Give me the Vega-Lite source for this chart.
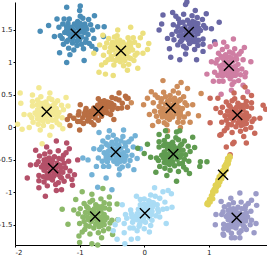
{"$schema":"https://vega.github.io/schema/vega-lite/v6.json","width":252,"height":243,"autosize":{"type":"none"},"padding":{"left":15,"top":2,"right":0,"bottom":10},
"config":{"view":{"stroke":null},"axis":{"grid":false,"domainColor":"#000","domainWidth":1,"tickColor":"#000","tickSize":2,"labelPadding":1,"labelFontSize":7,"labelFont":"DejaVu Sans","labelColor":"#222","title":null}},
"layer":[
{"data":{"values":[
{"c":"a","x":-1.05,"y":1.45},{"c":"a","x":-0.95,"y":1.50},{"c":"a","x":-1.15,"y":1.51},{"c":"a","x":-1.00,"y":1.35},{"c":"a","x":-1.11,"y":1.36},{"c":"a","x":-0.87,"y":1.43},{"c":"a","x":-1.23,"y":1.46},{"c":"a","x":-1.03,"y":1.63},{"c":"a","x":-1.04,"y":1.26},{"c":"a","x":-0.92,"y":1.59},{"c":"a","x":-1.18,"y":1.60},{"c":"a","x":-0.91,"y":1.31},{"c":"a","x":-1.20,"y":1.32},{"c":"a","x":-0.80,"y":1.50},{"c":"a","x":-1.30,"y":1.41},{"c":"a","x":-0.99,"y":1.71},{"c":"a","x":-1.09,"y":1.19},{"c":"a","x":-0.83,"y":1.58},{"c":"a","x":-1.26,"y":1.59},{"c":"a","x":-0.85,"y":1.29},{"c":"a","x":-1.25,"y":1.28},{"c":"a","x":-0.95,"y":1.68},{"c":"a","x":-1.16,"y":1.67},{"c":"a","x":-0.94,"y":1.21},{"c":"a","x":-1.17,"y":1.22},{"c":"a","x":-0.78,"y":1.37},{"c":"a","x":-1.32,"y":1.54},{"c":"a","x":-0.98,"y":1.55},{"c":"a","x":-1.12,"y":1.43},{"c":"a","x":-1.02,"y":1.53},{"c":"a","x":-0.89,"y":1.51},{"c":"a","x":-1.20,"y":1.50},{"c":"a","x":-0.97,"y":1.28},{"c":"a","x":-1.08,"y":1.59},{"c":"a","x":-0.86,"y":1.66},{"c":"a","x":-1.27,"y":1.37},{"c":"a","x":-0.81,"y":1.25},{"c":"a","x":-1.24,"y":1.67},{"c":"a","x":-0.72,"y":1.55},{"c":"a","x":-1.39,"y":1.40},{"c":"a","x":-1.00,"y":1.80},{"c":"a","x":-1.15,"y":1.12},{"c":"a","x":-0.77,"y":1.72},{"c":"a","x":-1.35,"y":1.67},{"c":"a","x":-0.75,"y":1.20},{"c":"a","x":-1.31,"y":1.15},{"c":"a","x":-0.63,"y":1.40},{"c":"a","x":-1.20,"y":1.85},{"c":"a","x":-0.93,"y":1.03},{"c":"a","x":-1.48,"y":1.57},{"c":"a","x":-1.61,"y":1.48},{"c":"a","x":-0.99,"y":1.87},{"c":"a","x":-0.62,"y":1.55},{"c":"a","x":-1.20,"y":1.00},
{"c":"a","x":-1.00,"y":1.47},{"c":"a","x":-1.09,"y":1.49},{"c":"a","x":-1.03,"y":1.40},{"c":"a","x":-1.08,"y":1.41},{"c":"a","x":-0.97,"y":1.39},{"c":"a","x":-1.13,"y":1.54},{"c":"a","x":-0.96,"y":1.54},{"c":"a","x":-1.14,"y":1.38},{"c":"a","x":-0.93,"y":1.46},{"c":"a","x":-1.17,"y":1.44},{"c":"a","x":-1.05,"y":1.56},{"c":"a","x":-1.04,"y":1.33},{"c":"a","x":-0.99,"y":1.60},{"c":"a","x":-1.11,"y":1.30},{"c":"a","x":-0.90,"y":1.36},{"c":"a","x":-1.20,"y":1.55},{"c":"a","x":-0.91,"y":1.55},{"c":"a","x":-1.18,"y":1.34},
{"c":"b","x":-0.36,"y":1.18},{"c":"b","x":-0.46,"y":1.23},{"c":"b","x":-0.26,"y":1.23},{"c":"b","x":-0.41,"y":1.09},{"c":"b","x":-0.30,"y":1.10},{"c":"b","x":-0.54,"y":1.16},{"c":"b","x":-0.18,"y":1.19},{"c":"b","x":-0.38,"y":1.34},{"c":"b","x":-0.37,"y":1.01},{"c":"b","x":-0.49,"y":1.31},{"c":"b","x":-0.23,"y":1.32},{"c":"b","x":-0.50,"y":1.05},{"c":"b","x":-0.21,"y":1.06},{"c":"b","x":-0.61,"y":1.23},{"c":"b","x":-0.11,"y":1.14},{"c":"b","x":-0.42,"y":1.41},{"c":"b","x":-0.32,"y":0.95},{"c":"b","x":-0.58,"y":1.30},{"c":"b","x":-0.15,"y":1.31},{"c":"b","x":-0.56,"y":1.04},{"c":"b","x":-0.16,"y":1.03},{"c":"b","x":-0.46,"y":1.39},{"c":"b","x":-0.25,"y":1.38},{"c":"b","x":-0.47,"y":0.96},{"c":"b","x":-0.24,"y":0.97},{"c":"b","x":-0.63,"y":1.11},{"c":"b","x":-0.09,"y":1.26},{"c":"b","x":-0.43,"y":1.27},{"c":"b","x":-0.29,"y":1.16},{"c":"b","x":-0.39,"y":1.25},{"c":"b","x":-0.52,"y":1.23},{"c":"b","x":-0.21,"y":1.23},{"c":"b","x":-0.44,"y":1.03},{"c":"b","x":-0.33,"y":1.31},{"c":"b","x":-0.55,"y":1.37},{"c":"b","x":-0.14,"y":1.11},{"c":"b","x":-0.60,"y":1.00},{"c":"b","x":-0.17,"y":1.38},{"c":"b","x":-0.69,"y":1.27},{"c":"b","x":-0.02,"y":1.14},{"c":"b","x":-0.41,"y":1.50},{"c":"b","x":-0.26,"y":0.88},{"c":"b","x":-0.64,"y":1.42},{"c":"b","x":-0.06,"y":1.38},{"c":"b","x":-0.66,"y":0.96},{"c":"b","x":-0.10,"y":0.91},{"c":"b","x":-0.78,"y":1.14},{"c":"b","x":-0.21,"y":1.54},{"c":"b","x":-0.48,"y":0.80},{"c":"b","x":0.07,"y":1.29},{"c":"b","x":-0.70,"y":0.85},{"c":"b","x":-0.60,"y":0.82},{"c":"b","x":0.05,"y":1.20},{"c":"b","x":-0.02,"y":1.45},
{"c":"b","x":-0.41,"y":1.20},{"c":"b","x":-0.32,"y":1.22},{"c":"b","x":-0.38,"y":1.13},{"c":"b","x":-0.33,"y":1.14},{"c":"b","x":-0.44,"y":1.12},{"c":"b","x":-0.28,"y":1.27},{"c":"b","x":-0.45,"y":1.27},{"c":"b","x":-0.27,"y":1.11},{"c":"b","x":-0.48,"y":1.19},{"c":"b","x":-0.24,"y":1.17},{"c":"b","x":-0.36,"y":1.29},{"c":"b","x":-0.37,"y":1.06},{"c":"b","x":-0.42,"y":1.33},{"c":"b","x":-0.30,"y":1.03},{"c":"b","x":-0.51,"y":1.09},{"c":"b","x":-0.21,"y":1.28},{"c":"b","x":-0.50,"y":1.28},{"c":"b","x":-0.23,"y":1.07},
{"c":"c","x":0.69,"y":1.47},{"c":"c","x":0.74,"y":1.57},{"c":"c","x":0.75,"y":1.37},{"c":"c","x":0.59,"y":1.52},{"c":"c","x":0.60,"y":1.41},{"c":"c","x":0.67,"y":1.65},{"c":"c","x":0.70,"y":1.29},{"c":"c","x":0.87,"y":1.49},{"c":"c","x":0.50,"y":1.48},{"c":"c","x":0.83,"y":1.60},{"c":"c","x":0.84,"y":1.34},{"c":"c","x":0.55,"y":1.61},{"c":"c","x":0.56,"y":1.32},{"c":"c","x":0.74,"y":1.72},{"c":"c","x":0.65,"y":1.22},{"c":"c","x":0.95,"y":1.53},{"c":"c","x":0.43,"y":1.43},{"c":"c","x":0.82,"y":1.69},{"c":"c","x":0.83,"y":1.26},{"c":"c","x":0.53,"y":1.67},{"c":"c","x":0.52,"y":1.27},{"c":"c","x":0.92,"y":1.57},{"c":"c","x":0.91,"y":1.36},{"c":"c","x":0.45,"y":1.58},{"c":"c","x":0.46,"y":1.35},{"c":"c","x":0.61,"y":1.74},{"c":"c","x":0.78,"y":1.20},{"c":"c","x":0.79,"y":1.54},{"c":"c","x":0.67,"y":1.40},{"c":"c","x":0.77,"y":1.50},{"c":"c","x":0.75,"y":1.63},{"c":"c","x":0.74,"y":1.32},{"c":"c","x":0.52,"y":1.55},{"c":"c","x":0.83,"y":1.44},{"c":"c","x":0.90,"y":1.66},{"c":"c","x":0.61,"y":1.25},{"c":"c","x":0.49,"y":1.71},{"c":"c","x":0.91,"y":1.28},{"c":"c","x":0.79,"y":1.80},{"c":"c","x":0.64,"y":1.13},{"c":"c","x":1.04,"y":1.52},{"c":"c","x":0.36,"y":1.37},{"c":"c","x":0.96,"y":1.75},{"c":"c","x":0.91,"y":1.17},{"c":"c","x":0.44,"y":1.77},{"c":"c","x":0.39,"y":1.21},{"c":"c","x":0.64,"y":1.89},{"c":"c","x":1.09,"y":1.32},{"c":"c","x":0.27,"y":1.59},{"c":"c","x":0.81,"y":1.04},{"c":"c","x":0.41,"y":1.08},{"c":"c","x":0.55,"y":1.04},{"c":"c","x":0.66,"y":1.93},{"c":"c","x":1.16,"y":1.62},{"c":"c","x":0.29,"y":1.73},{"c":"c","x":0.23,"y":1.50},
{"c":"c","x":0.71,"y":1.52},{"c":"c","x":0.73,"y":1.43},{"c":"c","x":0.64,"y":1.49},{"c":"c","x":0.65,"y":1.44},{"c":"c","x":0.63,"y":1.55},{"c":"c","x":0.78,"y":1.39},{"c":"c","x":0.78,"y":1.56},{"c":"c","x":0.62,"y":1.38},{"c":"c","x":0.70,"y":1.59},{"c":"c","x":0.68,"y":1.35},{"c":"c","x":0.80,"y":1.47},{"c":"c","x":0.57,"y":1.48},{"c":"c","x":0.84,"y":1.53},{"c":"c","x":0.54,"y":1.41},{"c":"c","x":0.60,"y":1.62},{"c":"c","x":0.79,"y":1.32},{"c":"c","x":0.79,"y":1.61},{"c":"c","x":0.58,"y":1.34},
{"c":"d","x":1.31,"y":0.95},{"c":"d","x":1.39,"y":0.90},{"c":"d","x":1.23,"y":0.88},{"c":"d","x":1.35,"y":1.06},{"c":"d","x":1.26,"y":1.05},{"c":"d","x":1.45,"y":0.97},{"c":"d","x":1.17,"y":0.94},{"c":"d","x":1.33,"y":0.75},{"c":"d","x":1.32,"y":1.16},{"c":"d","x":1.41,"y":0.80},{"c":"d","x":1.21,"y":0.79},{"c":"d","x":1.42,"y":1.10},{"c":"d","x":1.19,"y":1.09},{"c":"d","x":1.51,"y":0.90},{"c":"d","x":1.11,"y":0.99},{"c":"d","x":1.36,"y":0.66},{"c":"d","x":1.28,"y":1.24},{"c":"d","x":1.49,"y":0.81},{"c":"d","x":1.14,"y":0.80},{"c":"d","x":1.47,"y":1.13},{"c":"d","x":1.15,"y":1.14},{"c":"d","x":1.39,"y":0.70},{"c":"d","x":1.22,"y":0.71},{"c":"d","x":1.40,"y":1.21},{"c":"d","x":1.21,"y":1.20},{"c":"d","x":1.53,"y":1.04},{"c":"d","x":1.09,"y":0.85},{"c":"d","x":1.37,"y":0.84},{"c":"d","x":1.25,"y":0.97},{"c":"d","x":1.33,"y":0.86},{"c":"d","x":1.44,"y":0.88},{"c":"d","x":1.19,"y":0.90},{"c":"d","x":1.37,"y":1.14},{"c":"d","x":1.29,"y":0.80},{"c":"d","x":1.46,"y":0.72},{"c":"d","x":1.13,"y":1.04},{"c":"d","x":1.50,"y":1.17},{"c":"d","x":1.16,"y":0.71},{"c":"d","x":1.57,"y":0.84},{"c":"d","x":1.04,"y":1.01},{"c":"d","x":1.35,"y":0.57},{"c":"d","x":1.23,"y":1.31},{"c":"d","x":1.53,"y":0.65},{"c":"d","x":1.07,"y":0.71},{"c":"d","x":1.55,"y":1.23},{"c":"d","x":1.10,"y":1.28},{"c":"d","x":1.65,"y":1.01},{"c":"d","x":1.19,"y":0.51},{"c":"d","x":1.38,"y":1.36},{"c":"d","x":0.97,"y":0.82},{"c":"d","x":1.02,"y":1.24},{"c":"d","x":1.60,"y":0.55},{"c":"d","x":1.56,"y":0.78},
{"c":"d","x":1.35,"y":0.93},{"c":"d","x":1.28,"y":0.91},{"c":"d","x":1.33,"y":1.01},{"c":"d","x":1.29,"y":0.99},{"c":"d","x":1.37,"y":1.02},{"c":"d","x":1.25,"y":0.85},{"c":"d","x":1.38,"y":0.85},{"c":"d","x":1.24,"y":1.03},{"c":"d","x":1.41,"y":0.94},{"c":"d","x":1.21,"y":0.96},{"c":"d","x":1.31,"y":0.83},{"c":"d","x":1.32,"y":1.08},{"c":"d","x":1.36,"y":0.79},{"c":"d","x":1.26,"y":1.12},{"c":"d","x":1.43,"y":1.05},{"c":"d","x":1.19,"y":0.84},{"c":"d","x":1.42,"y":0.84},{"c":"d","x":1.21,"y":1.07},
{"c":"e","x":-1.51,"y":0.24},{"c":"e","x":-1.56,"y":0.15},{"c":"e","x":-1.57,"y":0.33},{"c":"e","x":-1.41,"y":0.20},{"c":"e","x":-1.42,"y":0.29},{"c":"e","x":-1.49,"y":0.09},{"c":"e","x":-1.52,"y":0.39},{"c":"e","x":-1.69,"y":0.22},{"c":"e","x":-1.32,"y":0.23},{"c":"e","x":-1.65,"y":0.13},{"c":"e","x":-1.66,"y":0.35},{"c":"e","x":-1.37,"y":0.12},{"c":"e","x":-1.38,"y":0.37},{"c":"e","x":-1.56,"y":0.03},{"c":"e","x":-1.47,"y":0.45},{"c":"e","x":-1.77,"y":0.19},{"c":"e","x":-1.25,"y":0.27},{"c":"e","x":-1.64,"y":0.05},{"c":"e","x":-1.65,"y":0.42},{"c":"e","x":-1.35,"y":0.07},{"c":"e","x":-1.34,"y":0.41},{"c":"e","x":-1.74,"y":0.15},{"c":"e","x":-1.73,"y":0.33},{"c":"e","x":-1.27,"y":0.15},{"c":"e","x":-1.28,"y":0.34},{"c":"e","x":-1.43,"y":0.01},{"c":"e","x":-1.60,"y":0.47},{"c":"e","x":-1.61,"y":0.18},{"c":"e","x":-1.49,"y":0.30},{"c":"e","x":-1.59,"y":0.21},{"c":"e","x":-1.57,"y":0.10},{"c":"e","x":-1.56,"y":0.37},{"c":"e","x":-1.34,"y":0.17},{"c":"e","x":-1.65,"y":0.27},{"c":"e","x":-1.72,"y":0.08},{"c":"e","x":-1.43,"y":0.43},{"c":"e","x":-1.31,"y":0.04},{"c":"e","x":-1.73,"y":0.40},{"c":"e","x":-1.61,"y":-0.04},{"c":"e","x":-1.46,"y":0.53},{"c":"e","x":-1.86,"y":0.20},{"c":"e","x":-1.18,"y":0.33},{"c":"e","x":-1.78,"y":0.00},{"c":"e","x":-1.73,"y":0.50},{"c":"e","x":-1.26,"y":-0.02},{"c":"e","x":-1.21,"y":0.46},{"c":"e","x":-1.46,"y":-0.12},{"c":"e","x":-1.91,"y":0.37},{"c":"e","x":-1.09,"y":0.14},{"c":"e","x":-1.63,"y":0.61},{"c":"e","x":-1.92,"y":0.53},{"c":"e","x":-1.58,"y":-0.25},{"c":"e","x":-1.89,"y":-0.03},{"c":"e","x":-1.96,"y":0.05},
{"c":"e","x":-1.53,"y":0.20},{"c":"e","x":-1.55,"y":0.27},{"c":"e","x":-1.46,"y":0.22},{"c":"e","x":-1.47,"y":0.27},{"c":"e","x":-1.45,"y":0.17},{"c":"e","x":-1.60,"y":0.32},{"c":"e","x":-1.60,"y":0.16},{"c":"e","x":-1.44,"y":0.32},{"c":"e","x":-1.52,"y":0.14},{"c":"e","x":-1.50,"y":0.34},{"c":"e","x":-1.62,"y":0.24},{"c":"e","x":-1.39,"y":0.23},{"c":"e","x":-1.66,"y":0.19},{"c":"e","x":-1.36,"y":0.29},{"c":"e","x":-1.42,"y":0.11},{"c":"e","x":-1.61,"y":0.37},{"c":"e","x":-1.61,"y":0.12},{"c":"e","x":-1.40,"y":0.35},
{"c":"f","x":-0.71,"y":0.25},{"c":"f","x":-0.59,"y":0.33},{"c":"f","x":-0.86,"y":0.22},{"c":"f","x":-0.62,"y":0.23},{"c":"f","x":-0.77,"y":0.17},{"c":"f","x":-0.47,"y":0.34},{"c":"f","x":-0.95,"y":0.15},{"c":"f","x":-0.72,"y":0.34},{"c":"f","x":-0.66,"y":0.17},{"c":"f","x":-0.57,"y":0.39},{"c":"f","x":-0.91,"y":0.25},{"c":"f","x":-0.50,"y":0.27},{"c":"f","x":-0.88,"y":0.10},{"c":"f","x":-0.39,"y":0.42},{"c":"f","x":-1.03,"y":0.09},{"c":"f","x":-0.68,"y":0.40},{"c":"f","x":-0.71,"y":0.11},{"c":"f","x":-0.44,"y":0.44},{"c":"f","x":-1.02,"y":0.19},{"c":"f","x":-0.41,"y":0.29},{"c":"f","x":-0.94,"y":0.06},{"c":"f","x":-0.62,"y":0.41},{"c":"f","x":-0.90,"y":0.29},{"c":"f","x":-0.52,"y":0.20},{"c":"f","x":-0.82,"y":0.08},{"c":"f","x":-0.34,"y":0.37},{"c":"f","x":-1.09,"y":0.14},{"c":"f","x":-0.64,"y":0.34},{"c":"f","x":-0.80,"y":0.20},{"c":"f","x":-0.69,"y":0.30},{"c":"f","x":-0.51,"y":0.37},{"c":"f","x":-0.92,"y":0.19},{"c":"f","x":-0.57,"y":0.22},{"c":"f","x":-0.78,"y":0.30},{"c":"f","x":-0.50,"y":0.46},{"c":"f","x":-0.99,"y":0.09},{"c":"f","x":-0.35,"y":0.30},{"c":"f","x":-1.01,"y":0.24},{"c":"f","x":-0.29,"y":0.48},{"c":"f","x":-1.15,"y":0.03},{"c":"f","x":-0.71,"y":0.44},{"c":"f","x":-0.78,"y":0.04},{"c":"f","x":-0.39,"y":0.53},{"c":"f","x":-1.15,"y":0.18},{"c":"f","x":-0.26,"y":0.31},{"c":"f","x":-1.00,"y":-0.04},{"c":"f","x":-0.27,"y":0.45},{"c":"f","x":-0.99,"y":0.35},{"c":"f","x":-0.47,"y":0.12},{"c":"f","x":-1.19,"y":0.12},{"c":"f","x":-0.25,"y":0.45},
{"c":"f","x":-0.65,"y":0.29},{"c":"f","x":-0.77,"y":0.25},{"c":"f","x":-0.67,"y":0.24},{"c":"f","x":-0.74,"y":0.21},{"c":"f","x":-0.59,"y":0.27},{"c":"f","x":-0.83,"y":0.25},{"c":"f","x":-0.61,"y":0.34},{"c":"f","x":-0.82,"y":0.17},{"c":"f","x":-0.55,"y":0.32},{"c":"f","x":-0.87,"y":0.18},{"c":"f","x":-0.73,"y":0.30},{"c":"f","x":-0.67,"y":0.20},{"c":"f","x":-0.66,"y":0.35},{"c":"f","x":-0.76,"y":0.15},{"c":"f","x":-0.49,"y":0.30},{"c":"f","x":-0.93,"y":0.21},{"c":"f","x":-0.54,"y":0.38},{"c":"f","x":-0.86,"y":0.13},
{"c":"g","x":0.41,"y":0.30},{"c":"g","x":0.31,"y":0.25},{"c":"g","x":0.51,"y":0.24},{"c":"g","x":0.36,"y":0.40},{"c":"g","x":0.47,"y":0.39},{"c":"g","x":0.23,"y":0.32},{"c":"g","x":0.59,"y":0.29},{"c":"g","x":0.39,"y":0.12},{"c":"g","x":0.40,"y":0.49},{"c":"g","x":0.28,"y":0.16},{"c":"g","x":0.54,"y":0.15},{"c":"g","x":0.27,"y":0.44},{"c":"g","x":0.56,"y":0.43},{"c":"g","x":0.16,"y":0.25},{"c":"g","x":0.66,"y":0.34},{"c":"g","x":0.35,"y":0.04},{"c":"g","x":0.45,"y":0.56},{"c":"g","x":0.19,"y":0.17},{"c":"g","x":0.62,"y":0.16},{"c":"g","x":0.21,"y":0.46},{"c":"g","x":0.61,"y":0.47},{"c":"g","x":0.31,"y":0.07},{"c":"g","x":0.52,"y":0.08},{"c":"g","x":0.30,"y":0.54},{"c":"g","x":0.53,"y":0.53},{"c":"g","x":0.14,"y":0.38},{"c":"g","x":0.68,"y":0.21},{"c":"g","x":0.34,"y":0.20},{"c":"g","x":0.48,"y":0.32},{"c":"g","x":0.38,"y":0.22},{"c":"g","x":0.25,"y":0.24},{"c":"g","x":0.56,"y":0.25},{"c":"g","x":0.33,"y":0.47},{"c":"g","x":0.44,"y":0.16},{"c":"g","x":0.22,"y":0.09},{"c":"g","x":0.63,"y":0.38},{"c":"g","x":0.17,"y":0.50},{"c":"g","x":0.60,"y":0.08},{"c":"g","x":0.08,"y":0.20},{"c":"g","x":0.75,"y":0.35},{"c":"g","x":0.36,"y":-0.05},{"c":"g","x":0.51,"y":0.63},{"c":"g","x":0.13,"y":0.03},{"c":"g","x":0.71,"y":0.08},{"c":"g","x":0.11,"y":0.55},{"c":"g","x":0.67,"y":0.60},{"c":"g","x":-0.01,"y":0.35},{"c":"g","x":0.56,"y":0.00},{"c":"g","x":0.29,"y":0.72},{"c":"g","x":0.84,"y":0.18},{"c":"g","x":-0.20,"y":0.38},{"c":"g","x":0.57,"y":0.69},{"c":"g","x":0.88,"y":0.52},{"c":"g","x":0.05,"y":0.45},
{"c":"g","x":0.36,"y":0.28},{"c":"g","x":0.45,"y":0.26},{"c":"g","x":0.39,"y":0.35},{"c":"g","x":0.44,"y":0.34},{"c":"g","x":0.33,"y":0.36},{"c":"g","x":0.49,"y":0.21},{"c":"g","x":0.32,"y":0.21},{"c":"g","x":0.50,"y":0.37},{"c":"g","x":0.29,"y":0.29},{"c":"g","x":0.53,"y":0.31},{"c":"g","x":0.41,"y":0.19},{"c":"g","x":0.40,"y":0.42},{"c":"g","x":0.35,"y":0.15},{"c":"g","x":0.47,"y":0.45},{"c":"g","x":0.26,"y":0.39},{"c":"g","x":0.56,"y":0.20},{"c":"g","x":0.27,"y":0.20},{"c":"g","x":0.54,"y":0.41},
{"c":"h","x":1.44,"y":0.19},{"c":"h","x":1.49,"y":0.09},{"c":"h","x":1.50,"y":0.29},{"c":"h","x":1.34,"y":0.14},{"c":"h","x":1.35,"y":0.25},{"c":"h","x":1.42,"y":0.01},{"c":"h","x":1.45,"y":0.37},{"c":"h","x":1.62,"y":0.17},{"c":"h","x":1.25,"y":0.18},{"c":"h","x":1.58,"y":0.06},{"c":"h","x":1.59,"y":0.32},{"c":"h","x":1.30,"y":0.05},{"c":"h","x":1.31,"y":0.34},{"c":"h","x":1.49,"y":-0.06},{"c":"h","x":1.40,"y":0.44},{"c":"h","x":1.70,"y":0.13},{"c":"h","x":1.18,"y":0.23},{"c":"h","x":1.57,"y":-0.03},{"c":"h","x":1.58,"y":0.40},{"c":"h","x":1.28,"y":-0.01},{"c":"h","x":1.27,"y":0.39},{"c":"h","x":1.67,"y":0.09},{"c":"h","x":1.66,"y":0.30},{"c":"h","x":1.20,"y":0.08},{"c":"h","x":1.21,"y":0.31},{"c":"h","x":1.36,"y":-0.08},{"c":"h","x":1.53,"y":0.46},{"c":"h","x":1.54,"y":0.12},{"c":"h","x":1.42,"y":0.26},{"c":"h","x":1.52,"y":0.16},{"c":"h","x":1.50,"y":0.03},{"c":"h","x":1.49,"y":0.34},{"c":"h","x":1.27,"y":0.11},{"c":"h","x":1.58,"y":0.22},{"c":"h","x":1.65,"y":0.00},{"c":"h","x":1.36,"y":0.41},{"c":"h","x":1.24,"y":-0.05},{"c":"h","x":1.66,"y":0.38},{"c":"h","x":1.54,"y":-0.14},{"c":"h","x":1.39,"y":0.53},{"c":"h","x":1.79,"y":0.14},{"c":"h","x":1.11,"y":0.29},{"c":"h","x":1.71,"y":-0.09},{"c":"h","x":1.66,"y":0.49},{"c":"h","x":1.19,"y":-0.11},{"c":"h","x":1.14,"y":0.45},{"c":"h","x":1.39,"y":-0.23},{"c":"h","x":1.84,"y":0.34},{"c":"h","x":1.02,"y":0.07},{"c":"h","x":1.56,"y":0.62},{"c":"h","x":1.33,"y":-0.42},{"c":"h","x":1.27,"y":-0.30},{"c":"h","x":1.37,"y":-0.25},{"c":"h","x":1.58,"y":-0.24},{"c":"h","x":1.17,"y":-0.12},{"c":"h","x":1.02,"y":0.45},{"c":"h","x":1.88,"y":0.28},
{"c":"h","x":1.46,"y":0.14},{"c":"h","x":1.48,"y":0.23},{"c":"h","x":1.39,"y":0.17},{"c":"h","x":1.40,"y":0.22},{"c":"h","x":1.38,"y":0.11},{"c":"h","x":1.53,"y":0.27},{"c":"h","x":1.53,"y":0.10},{"c":"h","x":1.37,"y":0.28},{"c":"h","x":1.45,"y":0.07},{"c":"h","x":1.43,"y":0.31},{"c":"h","x":1.55,"y":0.19},{"c":"h","x":1.32,"y":0.18},{"c":"h","x":1.59,"y":0.13},{"c":"h","x":1.29,"y":0.25},{"c":"h","x":1.35,"y":0.04},{"c":"h","x":1.54,"y":0.34},{"c":"h","x":1.54,"y":0.05},{"c":"h","x":1.33,"y":0.32},
{"c":"i","x":-1.41,"y":-0.63},{"c":"i","x":-1.46,"y":-0.53},{"c":"i","x":-1.47,"y":-0.73},{"c":"i","x":-1.31,"y":-0.58},{"c":"i","x":-1.32,"y":-0.69},{"c":"i","x":-1.39,"y":-0.45},{"c":"i","x":-1.42,"y":-0.81},{"c":"i","x":-1.59,"y":-0.61},{"c":"i","x":-1.22,"y":-0.62},{"c":"i","x":-1.55,"y":-0.50},{"c":"i","x":-1.56,"y":-0.76},{"c":"i","x":-1.27,"y":-0.49},{"c":"i","x":-1.28,"y":-0.78},{"c":"i","x":-1.46,"y":-0.38},{"c":"i","x":-1.37,"y":-0.88},{"c":"i","x":-1.67,"y":-0.57},{"c":"i","x":-1.15,"y":-0.67},{"c":"i","x":-1.54,"y":-0.41},{"c":"i","x":-1.55,"y":-0.84},{"c":"i","x":-1.25,"y":-0.43},{"c":"i","x":-1.24,"y":-0.83},{"c":"i","x":-1.64,"y":-0.53},{"c":"i","x":-1.63,"y":-0.74},{"c":"i","x":-1.17,"y":-0.52},{"c":"i","x":-1.18,"y":-0.75},{"c":"i","x":-1.33,"y":-0.36},{"c":"i","x":-1.50,"y":-0.90},{"c":"i","x":-1.51,"y":-0.56},{"c":"i","x":-1.39,"y":-0.70},{"c":"i","x":-1.49,"y":-0.60},{"c":"i","x":-1.47,"y":-0.47},{"c":"i","x":-1.46,"y":-0.78},{"c":"i","x":-1.24,"y":-0.55},{"c":"i","x":-1.55,"y":-0.66},{"c":"i","x":-1.62,"y":-0.44},{"c":"i","x":-1.33,"y":-0.85},{"c":"i","x":-1.21,"y":-0.39},{"c":"i","x":-1.63,"y":-0.82},{"c":"i","x":-1.51,"y":-0.30},{"c":"i","x":-1.36,"y":-0.97},{"c":"i","x":-1.76,"y":-0.58},{"c":"i","x":-1.08,"y":-0.73},{"c":"i","x":-1.68,"y":-0.35},{"c":"i","x":-1.63,"y":-0.93},{"c":"i","x":-1.16,"y":-0.33},{"c":"i","x":-1.11,"y":-0.89},{"c":"i","x":-1.36,"y":-0.21},{"c":"i","x":-1.81,"y":-0.78},{"c":"i","x":-1.03,"y":-0.50},{"c":"i","x":-1.53,"y":-1.06},{"c":"i","x":-1.20,"y":-0.24},{"c":"i","x":-1.12,"y":-0.80},{"c":"i","x":-1.28,"y":-0.96},
{"c":"i","x":-1.43,"y":-0.58},{"c":"i","x":-1.45,"y":-0.67},{"c":"i","x":-1.36,"y":-0.61},{"c":"i","x":-1.37,"y":-0.66},{"c":"i","x":-1.35,"y":-0.55},{"c":"i","x":-1.50,"y":-0.71},{"c":"i","x":-1.50,"y":-0.54},{"c":"i","x":-1.34,"y":-0.72},{"c":"i","x":-1.42,"y":-0.51},{"c":"i","x":-1.40,"y":-0.75},{"c":"i","x":-1.52,"y":-0.63},{"c":"i","x":-1.29,"y":-0.62},{"c":"i","x":-1.56,"y":-0.57},{"c":"i","x":-1.26,"y":-0.69},{"c":"i","x":-1.32,"y":-0.48},{"c":"i","x":-1.51,"y":-0.78},{"c":"i","x":-1.51,"y":-0.49},{"c":"i","x":-1.30,"y":-0.76},
{"c":"j","x":-0.44,"y":-0.38},{"c":"j","x":-0.34,"y":-0.43},{"c":"j","x":-0.54,"y":-0.44},{"c":"j","x":-0.39,"y":-0.28},{"c":"j","x":-0.50,"y":-0.29},{"c":"j","x":-0.26,"y":-0.36},{"c":"j","x":-0.62,"y":-0.39},{"c":"j","x":-0.42,"y":-0.56},{"c":"j","x":-0.43,"y":-0.19},{"c":"j","x":-0.31,"y":-0.52},{"c":"j","x":-0.57,"y":-0.53},{"c":"j","x":-0.30,"y":-0.24},{"c":"j","x":-0.59,"y":-0.25},{"c":"j","x":-0.19,"y":-0.43},{"c":"j","x":-0.69,"y":-0.34},{"c":"j","x":-0.38,"y":-0.64},{"c":"j","x":-0.48,"y":-0.12},{"c":"j","x":-0.22,"y":-0.51},{"c":"j","x":-0.65,"y":-0.52},{"c":"j","x":-0.24,"y":-0.22},{"c":"j","x":-0.64,"y":-0.21},{"c":"j","x":-0.34,"y":-0.61},{"c":"j","x":-0.55,"y":-0.60},{"c":"j","x":-0.33,"y":-0.14},{"c":"j","x":-0.56,"y":-0.15},{"c":"j","x":-0.17,"y":-0.30},{"c":"j","x":-0.71,"y":-0.47},{"c":"j","x":-0.37,"y":-0.48},{"c":"j","x":-0.51,"y":-0.36},{"c":"j","x":-0.41,"y":-0.46},{"c":"j","x":-0.28,"y":-0.44},{"c":"j","x":-0.59,"y":-0.43},{"c":"j","x":-0.36,"y":-0.21},{"c":"j","x":-0.47,"y":-0.52},{"c":"j","x":-0.25,"y":-0.59},{"c":"j","x":-0.66,"y":-0.30},{"c":"j","x":-0.20,"y":-0.18},{"c":"j","x":-0.63,"y":-0.60},{"c":"j","x":-0.11,"y":-0.48},{"c":"j","x":-0.78,"y":-0.33},{"c":"j","x":-0.39,"y":-0.73},{"c":"j","x":-0.54,"y":-0.05},{"c":"j","x":-0.16,"y":-0.65},{"c":"j","x":-0.74,"y":-0.60},{"c":"j","x":-0.14,"y":-0.13},{"c":"j","x":-0.70,"y":-0.08},{"c":"j","x":-0.06,"y":-0.33},{"c":"j","x":-0.59,"y":-0.78},{"c":"j","x":-0.32,"y":-0.04},{"c":"j","x":-0.87,"y":-0.50},{"c":"j","x":-0.81,"y":-0.73},{"c":"j","x":-0.72,"y":-0.92},{"c":"j","x":-0.95,"y":-0.47},{"c":"j","x":-0.50,"y":-0.96},
{"c":"j","x":-0.39,"y":-0.40},{"c":"j","x":-0.48,"y":-0.42},{"c":"j","x":-0.42,"y":-0.33},{"c":"j","x":-0.47,"y":-0.34},{"c":"j","x":-0.36,"y":-0.32},{"c":"j","x":-0.52,"y":-0.47},{"c":"j","x":-0.35,"y":-0.47},{"c":"j","x":-0.53,"y":-0.31},{"c":"j","x":-0.32,"y":-0.39},{"c":"j","x":-0.56,"y":-0.37},{"c":"j","x":-0.44,"y":-0.49},{"c":"j","x":-0.43,"y":-0.26},{"c":"j","x":-0.38,"y":-0.53},{"c":"j","x":-0.50,"y":-0.23},{"c":"j","x":-0.29,"y":-0.29},{"c":"j","x":-0.59,"y":-0.48},{"c":"j","x":-0.30,"y":-0.48},{"c":"j","x":-0.57,"y":-0.27},
{"c":"k","x":0.45,"y":-0.41},{"c":"k","x":0.40,"y":-0.51},{"c":"k","x":0.39,"y":-0.31},{"c":"k","x":0.55,"y":-0.46},{"c":"k","x":0.54,"y":-0.35},{"c":"k","x":0.47,"y":-0.59},{"c":"k","x":0.44,"y":-0.23},{"c":"k","x":0.27,"y":-0.43},{"c":"k","x":0.64,"y":-0.42},{"c":"k","x":0.31,"y":-0.54},{"c":"k","x":0.30,"y":-0.28},{"c":"k","x":0.59,"y":-0.55},{"c":"k","x":0.58,"y":-0.26},{"c":"k","x":0.40,"y":-0.66},{"c":"k","x":0.49,"y":-0.16},{"c":"k","x":0.19,"y":-0.47},{"c":"k","x":0.71,"y":-0.37},{"c":"k","x":0.32,"y":-0.63},{"c":"k","x":0.31,"y":-0.20},{"c":"k","x":0.61,"y":-0.61},{"c":"k","x":0.62,"y":-0.21},{"c":"k","x":0.22,"y":-0.51},{"c":"k","x":0.23,"y":-0.30},{"c":"k","x":0.69,"y":-0.52},{"c":"k","x":0.68,"y":-0.29},{"c":"k","x":0.53,"y":-0.68},{"c":"k","x":0.36,"y":-0.14},{"c":"k","x":0.35,"y":-0.48},{"c":"k","x":0.47,"y":-0.34},{"c":"k","x":0.37,"y":-0.44},{"c":"k","x":0.39,"y":-0.57},{"c":"k","x":0.40,"y":-0.26},{"c":"k","x":0.62,"y":-0.49},{"c":"k","x":0.31,"y":-0.38},{"c":"k","x":0.24,"y":-0.60},{"c":"k","x":0.53,"y":-0.19},{"c":"k","x":0.65,"y":-0.65},{"c":"k","x":0.23,"y":-0.22},{"c":"k","x":0.35,"y":-0.74},{"c":"k","x":0.50,"y":-0.07},{"c":"k","x":0.10,"y":-0.46},{"c":"k","x":0.78,"y":-0.31},{"c":"k","x":0.18,"y":-0.69},{"c":"k","x":0.23,"y":-0.11},{"c":"k","x":0.70,"y":-0.71},{"c":"k","x":0.75,"y":-0.15},{"c":"k","x":0.50,"y":-0.83},{"c":"k","x":0.05,"y":-0.26},{"c":"k","x":0.87,"y":-0.53},{"c":"k","x":0.33,"y":-0.05},{"c":"k","x":-0.10,"y":-0.32},{"c":"k","x":0.97,"y":-0.53},{"c":"k","x":0.55,"y":-0.05},{"c":"k","x":0.00,"y":-0.40},{"c":"k","x":0.86,"y":-0.60},
{"c":"k","x":0.43,"y":-0.46},{"c":"k","x":0.41,"y":-0.37},{"c":"k","x":0.50,"y":-0.43},{"c":"k","x":0.49,"y":-0.38},{"c":"k","x":0.51,"y":-0.49},{"c":"k","x":0.36,"y":-0.33},{"c":"k","x":0.36,"y":-0.50},{"c":"k","x":0.52,"y":-0.32},{"c":"k","x":0.44,"y":-0.53},{"c":"k","x":0.46,"y":-0.29},{"c":"k","x":0.34,"y":-0.41},{"c":"k","x":0.57,"y":-0.42},{"c":"k","x":0.30,"y":-0.47},{"c":"k","x":0.60,"y":-0.35},{"c":"k","x":0.54,"y":-0.56},{"c":"k","x":0.35,"y":-0.26},{"c":"k","x":0.35,"y":-0.55},{"c":"k","x":0.56,"y":-0.28},
{"c":"l","x":0.99,"y":-1.19},{"c":"l","x":0.98,"y":-1.16},{"c":"l","x":1.02,"y":-1.15},{"c":"l","x":1.01,"y":-1.11},{"c":"l","x":1.06,"y":-1.10},{"c":"l","x":1.04,"y":-1.05},{"c":"l","x":1.06,"y":-1.03},{"c":"l","x":1.06,"y":-0.99},{"c":"l","x":1.11,"y":-0.98},{"c":"l","x":1.09,"y":-0.95},{"c":"l","x":1.12,"y":-0.92},{"c":"l","x":1.10,"y":-0.89},{"c":"l","x":1.15,"y":-0.89},{"c":"l","x":1.13,"y":-0.86},{"c":"l","x":1.17,"y":-0.84},{"c":"l","x":1.14,"y":-0.81},{"c":"l","x":1.17,"y":-0.81},{"c":"l","x":1.20,"y":-0.79},{"c":"l","x":1.16,"y":-0.76},{"c":"l","x":1.20,"y":-0.75},{"c":"l","x":1.19,"y":-0.72},{"c":"l","x":1.23,"y":-0.73},{"c":"l","x":1.20,"y":-0.68},{"c":"l","x":1.24,"y":-0.68},{"c":"l","x":1.22,"y":-0.66},{"c":"l","x":1.27,"y":-0.65},{"c":"l","x":1.24,"y":-0.60},{"c":"l","x":1.27,"y":-0.60},{"c":"l","x":1.26,"y":-0.57},{"c":"l","x":1.30,"y":-0.56},{"c":"l","x":1.28,"y":-0.53},{"c":"l","x":1.31,"y":-0.51},{"c":"l","x":1.29,"y":-0.48},{"c":"l","x":1.33,"y":-0.46},{"c":"l","x":1.32,"y":-0.44},{"c":"l","x":0.97,"y":-1.18},
{"c":"l","x":1.15,"y":-0.84},{"c":"l","x":1.16,"y":-0.80},{"c":"l","x":1.18,"y":-0.78},{"c":"l","x":1.19,"y":-0.74},{"c":"l","x":1.21,"y":-0.71},{"c":"l","x":1.22,"y":-0.69},{"c":"l","x":1.25,"y":-0.63},{"c":"l","x":1.25,"y":-0.66},{"c":"l","x":1.28,"y":-0.58},{"c":"l","x":1.29,"y":-0.55},{"c":"l","x":1.12,"y":-0.90},{"c":"l","x":1.08,"y":-0.96},{"c":"l","x":1.04,"y":-1.08},
{"c":"m","x":-0.76,"y":-1.37},{"c":"m","x":-0.71,"y":-1.47},{"c":"m","x":-0.70,"y":-1.27},{"c":"m","x":-0.86,"y":-1.42},{"c":"m","x":-0.85,"y":-1.31},{"c":"m","x":-0.78,"y":-1.55},{"c":"m","x":-0.75,"y":-1.19},{"c":"m","x":-0.58,"y":-1.39},{"c":"m","x":-0.95,"y":-1.38},{"c":"m","x":-0.62,"y":-1.50},{"c":"m","x":-0.61,"y":-1.24},{"c":"m","x":-0.90,"y":-1.51},{"c":"m","x":-0.89,"y":-1.22},{"c":"m","x":-0.71,"y":-1.62},{"c":"m","x":-0.80,"y":-1.12},{"c":"m","x":-0.50,"y":-1.43},{"c":"m","x":-1.02,"y":-1.33},{"c":"m","x":-0.63,"y":-1.59},{"c":"m","x":-0.62,"y":-1.16},{"c":"m","x":-0.92,"y":-1.57},{"c":"m","x":-0.93,"y":-1.17},{"c":"m","x":-0.53,"y":-1.47},{"c":"m","x":-0.54,"y":-1.26},{"c":"m","x":-1.00,"y":-1.48},{"c":"m","x":-0.99,"y":-1.25},{"c":"m","x":-0.84,"y":-1.64},{"c":"m","x":-0.67,"y":-1.10},{"c":"m","x":-0.66,"y":-1.44},{"c":"m","x":-0.78,"y":-1.30},{"c":"m","x":-0.68,"y":-1.40},{"c":"m","x":-0.70,"y":-1.53},{"c":"m","x":-0.71,"y":-1.22},{"c":"m","x":-0.93,"y":-1.45},{"c":"m","x":-0.62,"y":-1.34},{"c":"m","x":-0.55,"y":-1.56},{"c":"m","x":-0.84,"y":-1.15},{"c":"m","x":-0.96,"y":-1.61},{"c":"m","x":-0.54,"y":-1.18},{"c":"m","x":-0.66,"y":-1.70},{"c":"m","x":-0.81,"y":-1.03},{"c":"m","x":-0.41,"y":-1.42},{"c":"m","x":-1.09,"y":-1.27},{"c":"m","x":-0.49,"y":-1.65},{"c":"m","x":-0.54,"y":-1.07},{"c":"m","x":-1.01,"y":-1.67},{"c":"m","x":-1.06,"y":-1.11},{"c":"m","x":-0.81,"y":-1.79},{"c":"m","x":-0.42,"y":-1.18},{"c":"m","x":-1.18,"y":-1.49},{"c":"m","x":-0.64,"y":-0.94},{"c":"m","x":-1.27,"y":-1.26},{"c":"m","x":-1.00,"y":-1.77},{"c":"m","x":-0.72,"y":-1.81},{"c":"m","x":-0.96,"y":-0.99},
{"c":"m","x":-0.74,"y":-1.42},{"c":"m","x":-0.72,"y":-1.33},{"c":"m","x":-0.81,"y":-1.39},{"c":"m","x":-0.80,"y":-1.34},{"c":"m","x":-0.82,"y":-1.45},{"c":"m","x":-0.67,"y":-1.29},{"c":"m","x":-0.67,"y":-1.46},{"c":"m","x":-0.83,"y":-1.28},{"c":"m","x":-0.75,"y":-1.49},{"c":"m","x":-0.77,"y":-1.25},{"c":"m","x":-0.65,"y":-1.37},{"c":"m","x":-0.88,"y":-1.38},{"c":"m","x":-0.61,"y":-1.43},{"c":"m","x":-0.91,"y":-1.31},{"c":"m","x":-0.85,"y":-1.52},{"c":"m","x":-0.66,"y":-1.22},{"c":"m","x":-0.66,"y":-1.51},{"c":"m","x":-0.87,"y":-1.24},
{"c":"n","x":0.01,"y":-1.32},{"c":"n","x":0.09,"y":-1.21},{"c":"n","x":-0.12,"y":-1.36},{"c":"n","x":0.11,"y":-1.34},{"c":"n","x":-0.01,"y":-1.42},{"c":"n","x":0.20,"y":-1.19},{"c":"n","x":-0.18,"y":-1.46},{"c":"n","x":-0.06,"y":-1.19},{"c":"n","x":0.12,"y":-1.43},{"c":"n","x":0.07,"y":-1.13},{"c":"n","x":-0.20,"y":-1.33},{"c":"n","x":0.22,"y":-1.30},{"c":"n","x":-0.08,"y":-1.52},{"c":"n","x":0.24,"y":-1.09},{"c":"n","x":-0.22,"y":-1.55},{"c":"n","x":-0.06,"y":-1.11},{"c":"n","x":0.10,"y":-1.51},{"c":"n","x":0.17,"y":-1.06},{"c":"n","x":-0.27,"y":-1.40},{"c":"n","x":0.29,"y":-1.26},{"c":"n","x":-0.11,"y":-1.59},{"c":"n","x":0.00,"y":-1.10},{"c":"n","x":-0.21,"y":-1.27},{"c":"n","x":0.24,"y":-1.38},{"c":"n","x":0.00,"y":-1.56},{"c":"n","x":0.32,"y":-1.15},{"c":"n","x":-0.31,"y":-1.48},{"c":"n","x":0.03,"y":-1.20},{"c":"n","x":-0.05,"y":-1.39},{"c":"n","x":0.00,"y":-1.25},{"c":"n","x":0.14,"y":-1.16},{"c":"n","x":-0.16,"y":-1.41},{"c":"n","x":0.18,"y":-1.36},{"c":"n","x":-0.09,"y":-1.26},{"c":"n","x":0.10,"y":-1.04},{"c":"n","x":-0.17,"y":-1.55},{"c":"n","x":0.35,"y":-1.25},{"c":"n","x":-0.29,"y":-1.34},{"c":"n","x":0.29,"y":-0.99},{"c":"n","x":-0.31,"y":-1.62},{"c":"n","x":-0.12,"y":-1.06},{"c":"n","x":0.08,"y":-1.61},{"c":"n","x":0.16,"y":-0.93},{"c":"n","x":-0.40,"y":-1.42},{"c":"n","x":0.43,"y":-1.23},{"c":"n","x":-0.10,"y":-1.71},{"c":"n","x":0.42,"y":-1.02},{"c":"n","x":-0.34,"y":-1.19},{"c":"n","x":0.34,"y":-1.48},{"c":"n","x":-0.48,"y":-1.59},{"c":"n","x":-0.30,"y":-1.79},{"c":"n","x":-0.42,"y":-1.72},{"c":"n","x":-0.20,"y":-1.72},{"c":"n","x":0.37,"y":-0.97},{"c":"n","x":-0.45,"y":-1.50},
{"c":"n","x":0.05,"y":-1.27},{"c":"n","x":-0.05,"y":-1.33},{"c":"n","x":0.06,"y":-1.33},{"c":"n","x":0.00,"y":-1.37},{"c":"n","x":0.12,"y":-1.29},{"c":"n","x":-0.11,"y":-1.33},{"c":"n","x":0.06,"y":-1.19},{"c":"n","x":-0.04,"y":-1.44},{"c":"n","x":0.13,"y":-1.22},{"c":"n","x":-0.11,"y":-1.42},{"c":"n","x":-0.05,"y":-1.25},{"c":"n","x":0.08,"y":-1.39},{"c":"n","x":0.00,"y":-1.18},{"c":"n","x":0.02,"y":-1.46},{"c":"n","x":0.21,"y":-1.26},{"c":"n","x":-0.19,"y":-1.38},{"c":"n","x":0.10,"y":-1.15},{"c":"n","x":-0.07,"y":-1.49},
{"c":"o","x":1.43,"y":-1.39},{"c":"o","x":1.38,"y":-1.30},{"c":"o","x":1.38,"y":-1.48},{"c":"o","x":1.52,"y":-1.34},{"c":"o","x":1.51,"y":-1.44},{"c":"o","x":1.45,"y":-1.23},{"c":"o","x":1.42,"y":-1.55},{"c":"o","x":1.27,"y":-1.37},{"c":"o","x":1.60,"y":-1.38},{"c":"o","x":1.30,"y":-1.27},{"c":"o","x":1.29,"y":-1.51},{"c":"o","x":1.56,"y":-1.26},{"c":"o","x":1.55,"y":-1.53},{"c":"o","x":1.38,"y":-1.16},{"c":"o","x":1.47,"y":-1.62},{"c":"o","x":1.20,"y":-1.34},{"c":"o","x":1.66,"y":-1.43},{"c":"o","x":1.31,"y":-1.19},{"c":"o","x":1.30,"y":-1.58},{"c":"o","x":1.57,"y":-1.21},{"c":"o","x":1.58,"y":-1.57},{"c":"o","x":1.22,"y":-1.30},{"c":"o","x":1.23,"y":-1.49},{"c":"o","x":1.65,"y":-1.29},{"c":"o","x":1.64,"y":-1.50},{"c":"o","x":1.50,"y":-1.15},{"c":"o","x":1.35,"y":-1.63},{"c":"o","x":1.34,"y":-1.33},{"c":"o","x":1.45,"y":-1.45},{"c":"o","x":1.36,"y":-1.36},{"c":"o","x":1.38,"y":-1.25},{"c":"o","x":1.38,"y":-1.53},{"c":"o","x":1.58,"y":-1.32},{"c":"o","x":1.30,"y":-1.42},{"c":"o","x":1.24,"y":-1.22},{"c":"o","x":1.50,"y":-1.59},{"c":"o","x":1.61,"y":-1.17},{"c":"o","x":1.23,"y":-1.56},{"c":"o","x":1.34,"y":-1.09},{"c":"o","x":1.48,"y":-1.70},{"c":"o","x":1.11,"y":-1.34},{"c":"o","x":1.73,"y":-1.48},{"c":"o","x":1.19,"y":-1.14},{"c":"o","x":1.23,"y":-1.66},{"c":"o","x":1.66,"y":-1.12},{"c":"o","x":1.70,"y":-1.62},{"c":"o","x":1.48,"y":-1.01},{"c":"o","x":1.10,"y":-1.50},{"c":"o","x":1.74,"y":-1.20},{"c":"o","x":1.35,"y":-1.70},{"c":"o","x":1.73,"y":-1.02},{"c":"o","x":1.22,"y":-1.64},{"c":"o","x":1.40,"y":-1.70},
{"c":"o","x":1.41,"y":-1.35},{"c":"o","x":1.39,"y":-1.43},{"c":"o","x":1.47,"y":-1.37},{"c":"o","x":1.47,"y":-1.42},{"c":"o","x":1.48,"y":-1.32},{"c":"o","x":1.35,"y":-1.46},{"c":"o","x":1.35,"y":-1.31},{"c":"o","x":1.49,"y":-1.47},{"c":"o","x":1.42,"y":-1.28},{"c":"o","x":1.44,"y":-1.50},{"c":"o","x":1.33,"y":-1.39},{"c":"o","x":1.54,"y":-1.38},{"c":"o","x":1.30,"y":-1.34},{"c":"o","x":1.57,"y":-1.44},{"c":"o","x":1.51,"y":-1.25},{"c":"o","x":1.34,"y":-1.53},{"c":"o","x":1.34,"y":-1.26},{"c":"o","x":1.53,"y":-1.51}
]},
"mark":{"type":"circle","size":30,"opacity":1},
"encoding":{
"x":{"field":"x","type":"quantitative","scale":{"domain":[-2,1.9],"nice":false,"zero":false},"axis":{"values":[-2,-1.5,-1,-0.5,0,0.5,1,1.5],"labelExpr":"replace(format(datum.value,'~g'),'\u2212','-')"}},
"y":{"field":"y","type":"quantitative","scale":{"domain":[-1.81,1.93],"nice":false,"zero":false},"axis":{"values":[-1.5,-1,-0.5,0,0.5,1,1.5],"labelExpr":"replace(format(datum.value,'~g'),'\u2212','-')"}},
"color":{"field":"c","type":"nominal","legend":null,"scale":{"domain":["a","b","c","d","e","f","g","h","i","j","k","l","m","n","o"],"range":["#4a8db7","#ece07e","#6967a5","#cf7ea3","#f3e994","#b96e42","#cd8c5a","#c8695a","#b45069","#73b2d7","#5f9b50","#e1d255","#8cb969","#aadcf5","#9b9bc8"]}}}},
{"data":{"values":[
{"x":-1.06,"y":1.44},{"x":-0.36,"y":1.18},{"x":0.69,"y":1.47},{"x":1.31,"y":0.95},{"x":-1.51,"y":0.24},{"x":-0.71,"y":0.25},{"x":0.41,"y":0.30},{"x":1.44,"y":0.19},{"x":-1.41,"y":-0.63},{"x":-0.44,"y":-0.38},{"x":0.45,"y":-0.41},{"x":1.22,"y":-0.73},{"x":-0.76,"y":-1.37},{"x":0.01,"y":-1.32},{"x":1.43,"y":-1.39}
]},
"mark":{"type":"point","shape":"M-1,-1L1,1M-1,1L1,-1","size":100,"filled":false,"stroke":"#000","strokeWidth":1.4,"opacity":1},
"encoding":{"x":{"field":"x","type":"quantitative"},"y":{"field":"y","type":"quantitative"}}}
]}
